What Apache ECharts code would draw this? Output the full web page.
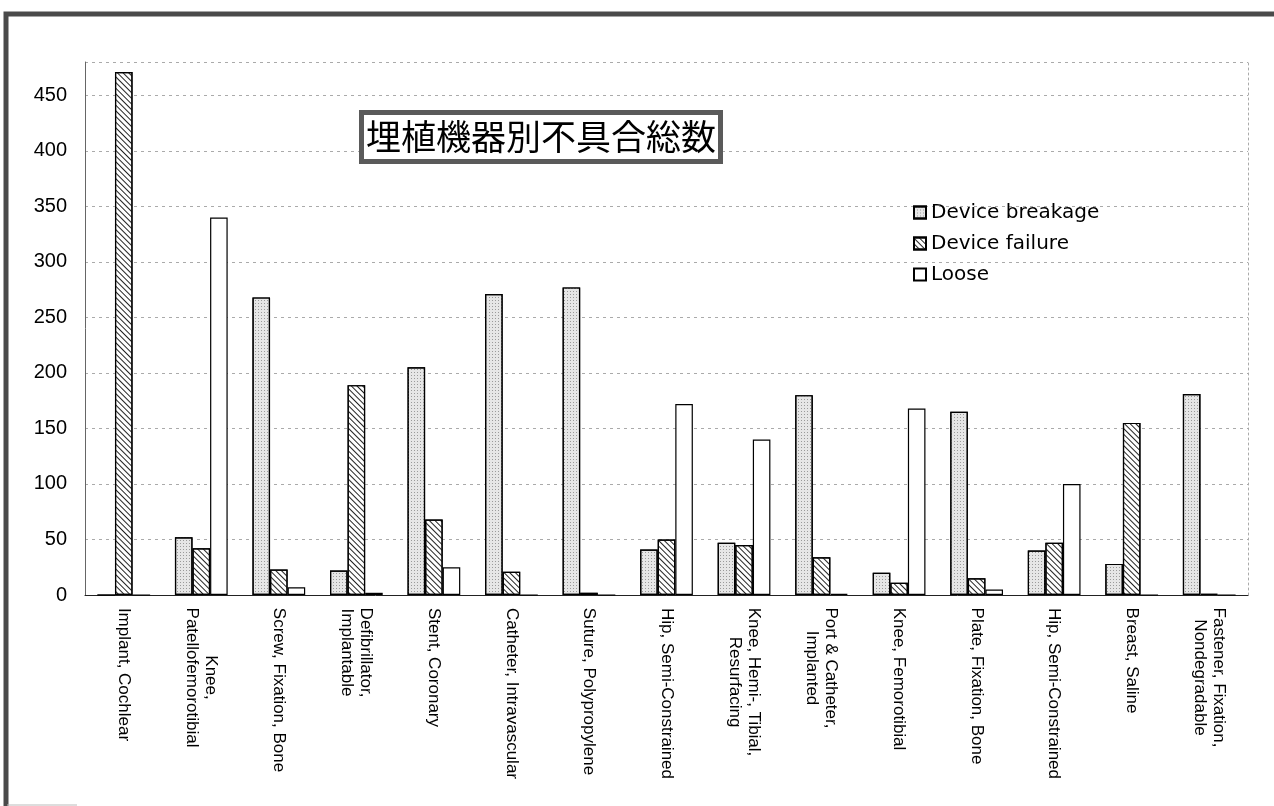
<!DOCTYPE html>
<html><head><meta charset="utf-8">
<script src="https://cdn.jsdelivr.net/npm/echarts@6/dist/echarts.min.js"></script>
<style>html,body{margin:0;padding:0;background:#fff}#c{width:1274px;height:806px}</style>
</head><body><div id="c"></div>
<script>
const chartTitle = '埋植機器別不具合総数';
const categories = [
  'Implant, Cochlear',
  'Knee,\nPatellofemorotibial',
  'Screw, Fixation, Bone',
  'Defibrillator,\nImplantable',
  'Stent, Coronary',
  'Catheter, Intravascular',
  'Suture, Polypropylene',
  'Hip, Semi-Constrained',
  'Knee, Hemi-, Tibial,\nResurfacing',
  'Port & Catheter,\nImplanted',
  'Knee, Femorotibial',
  'Plate, Fixation, Bone',
  'Hip, Semi-Constrained',
  'Breast, Saline',
  'Fastener, Fixation,\nNondegradable'
];
const seriesNames = ['Device breakage', 'Device failure', 'Loose'];
const breakage = [0, 52, 268, 22, 205, 271, 277, 41, 47, 180, 20, 165, 40, 28, 181];
const failure  = [471, 42, 23, 189, 68, 21, 2, 50, 45, 34, 11, 15, 47, 155, 1];
const loose    = [0, 340, 7, 2, 25, 0, 0, 172, 140, 1, 168, 5, 100, 0, 0];
const yMin = 0, yMax = 480, yStep = 50;

const LABEL_SIZE = 17, LABEL_FAMILY = 'Liberation Sans';
const ctx = document.createElement('canvas').getContext('2d');
ctx.font = LABEL_SIZE + 'px "' + LABEL_FAMILY + '"';
const rich = {};
categories.forEach((c, i) => {
  const w = Math.max(...c.split('\n').map(s => ctx.measureText(s).width));
  rich['w' + i] = { width: Math.ceil(w) + 1, align: 'center', fontSize: LABEL_SIZE,
    fontFamily: LABEL_FAMILY, color: '#000', lineHeight: 19 };
});

const chart = echarts.init(document.getElementById('c'), null, { renderer: 'canvas' });
const edge = { borderColor: '#000', borderWidth: 1.2 };
chart.setOption({
  backgroundColor: '#fff',
  animation: false,
  title: {
    text: chartTitle, left: 361, top: 112,
    padding: [6, 5],
    backgroundColor: '#fff', borderColor: '#5a5a5a', borderWidth: 5,
    textStyle: { fontFamily: 'Noto Sans CJK JP', fontSize: 35, fontWeight: 'normal', color: '#000', lineHeight: 38 }
  },
  legend: {
    orient: 'vertical', left: 908, top: 196,
    itemWidth: 12, itemHeight: 12, itemGap: 8,
    icon: 'rect',
    textStyle: { fontFamily: 'DejaVu Sans', fontSize: 20, color: '#000', lineHeight: 23 },
    data: seriesNames
  },
  grid: { left: 85, right: 26, top: 62, bottom: 211, containLabel: false },
  xAxis: {
    type: 'category', data: categories,
    axisLine: { lineStyle: { color: '#222', width: 1 } },
    axisTick: { show: false },
    axisLabel: {
      interval: 0, rotate: -90, margin: 12,
      formatter: (v, i) => v.split('\n').map(s => '{w' + i + '|' + s + '}').join('\n'),
      rich: rich
    }
  },
  yAxis: [{
    type: 'value', min: yMin, max: yMax, interval: yStep,
    axisLine: { show: true, lineStyle: { color: '#666', width: 1 } },
    axisTick: { show: false },
    axisLabel: { showMaxLabel: false, margin: 18, fontFamily: 'Liberation Sans', fontSize: 20, color: '#000' },
    splitLine: { show: true, lineStyle: { color: '#aaa', width: 1, type: [3, 4] } }
  }, {
    type: 'value', min: yMin, max: yMax, interval: yStep, position: 'right',
    axisLine: { show: true, lineStyle: { color: '#aaa', width: 1, type: [2, 3] } },
    axisTick: { show: false }, axisLabel: { show: false }, splitLine: { show: false }
  }],
  series: [
    { name: seriesNames[0], type: 'bar', data: breakage, barGap: '0%', barCategoryGap: '32%',
      itemStyle: Object.assign({ color: '#e6e6e6',
        decal: { symbol: 'rect', symbolSize: 1, dashArrayX: [1, 2], dashArrayY: [1, 2], color: '#9a9a9a' } }, edge) },
    { name: seriesNames[1], type: 'bar', data: failure, barGap: '0%', barCategoryGap: '32%',
      itemStyle: Object.assign({ color: '#fff',
        decal: { symbol: 'rect', symbolSize: 1, dashArrayX: [[1, 0]], dashArrayY: [1, 3], rotation: Math.PI / 4, color: '#222' } }, edge) },
    { name: seriesNames[2], type: 'bar', data: loose, barGap: '0%', barCategoryGap: '32%',
      itemStyle: Object.assign({ color: '#fff' }, edge) }
  ],
  graphic: [
    { type: 'rect', shape: { x: 6, y: 14, width: 1400, height: 1000 },
      style: { fill: null, stroke: '#4a4a4a', lineWidth: 5 }, silent: true },
    { type: 'line', shape: { x1: 7, y1: 805, x2: 77, y2: 805 },
      style: { stroke: '#bbb', lineWidth: 1 }, silent: true }
  ]
});
</script></body></html>
